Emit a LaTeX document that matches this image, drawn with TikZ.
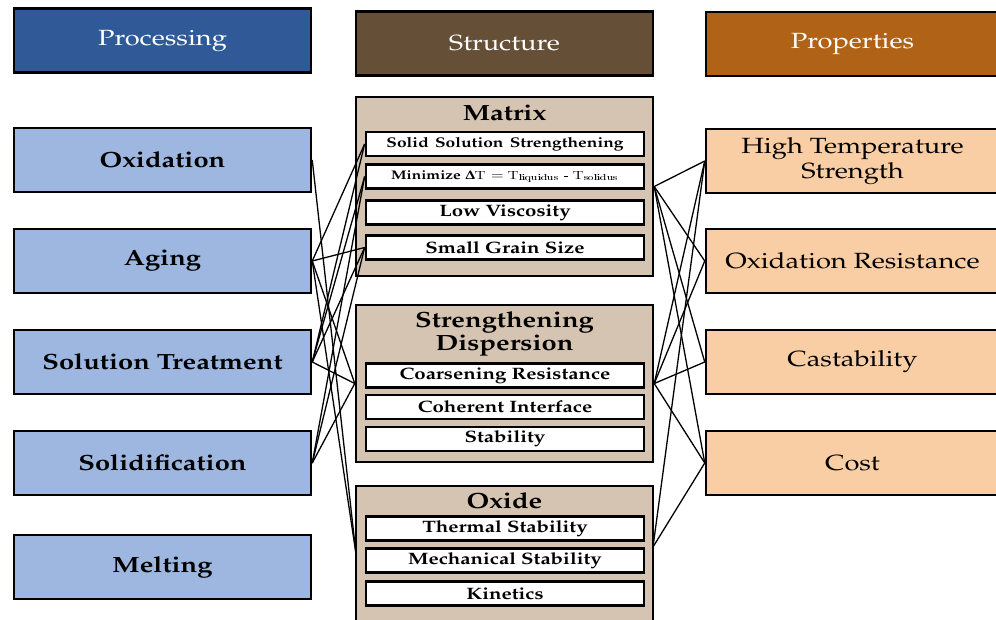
\documentclass[tikz,border=0pt]{standalone}
\usepackage[T1]{fontenc}
\usepackage{mathpazo}
\usepackage{graphicx}
\definecolor{procblue}{RGB}{47,90,151}
\definecolor{strbrown}{RGB}{101,79,55}
\definecolor{proporange}{RGB}{176,99,22}
\definecolor{lightblue}{RGB}{157,183,224}
\definecolor{tan}{RGB}{214,196,178}
\definecolor{peach}{RGB}{250,206,164}
\newcommand{\hs}[1]{\scalebox{1.24}[1]{#1}}
\begin{document}
\begin{tikzpicture}[x=1pt,y=-1pt,
  hdr/.style={draw=black, line width=2.5pt, minimum width=297pt, minimum height=64pt, text=white, font=\fontsize{22}{26}\selectfont, inner sep=0pt},
  procbox/.style={draw=black, line width=2.5pt, fill=lightblue, minimum width=297pt, minimum height=64pt, font=\fontsize{22}{26}\selectfont\bfseries, inner sep=0pt},
  propbox/.style={draw=black, line width=2.5pt, fill=peach, minimum width=293pt, minimum height=64pt, font=\fontsize{22}{26}\selectfont, align=center, inner sep=0pt},
  cont/.style={draw=black, line width=2.5pt, fill=tan, minimum width=297pt, inner sep=0pt},
  ttl/.style={font=\fontsize{22}{26}\selectfont\bfseries, align=center, inner sep=0pt},
  sub/.style={draw=black, line width=2.7pt, fill=white, minimum width=278pt, minimum height=24pt, font=\fontsize{16.5}{18}\selectfont\bfseries, inner sep=0pt},
  conn/.style={draw=black, line width=1.3pt}]
\useasboundingbox (0,0) rectangle (996,619);
% headers
\node[hdr, fill=procblue] (hp) at (162.5,40.5) {\hs{Processing}};
\node[hdr, fill=strbrown] (hs) at (504.5,43.5) {\hs{Structure}};
\node[hdr, fill=proporange, minimum width=293pt] (hq) at (852.5,44) {\hs{Properties}};
% processing
\node[procbox] (oxi) at (162.5,160) {\hs{Oxidation}};
\node[procbox] (age) at (162.5,261) {\hs{Aging}};
\node[procbox] (sol) at (162.5,362) {\hs{Solution Treatment}};
\node[procbox] (sfy) at (162.5,463) {\hs{Solidification}};
\node[procbox] (mel) at (162.5,567) {\hs{Melting}};
% properties
\node[propbox] (hts) at (852.5,161) {\hs{High Temperature}\\[-1pt]\hs{Strength}};
\node[propbox] (oxr) at (852.5,261) {\hs{Oxidation Resistance}};
\node[propbox] (cas) at (852.5,362) {\hs{Castability}};
\node[propbox] (cst) at (852.5,463) {\hs{Cost}};
% matrix
\node[cont, minimum height=179pt] (mat) at (504.5,186.5) {};
\node[ttl] (matt) at (504.5,113) {\hs{Matrix}};
\node[sub, font=\fontsize{14}{16}\selectfont\bfseries] (sss) at (505,144) {\hs{Solid\hspace{1.5pt} Solution\hspace{1.5pt} Strengthening}};
\node[sub, font=\fontsize{12.5}{15}\selectfont\bfseries] (mdt) at (505,176.5) {\hs{Minimize {\sffamily\bfseries $\mathbf{\Delta}$T $=$ T\textsubscript{liquidus} - T\textsubscript{solidus}}}};
\node[sub] (lvs) at (505,212.5) {\hs{Low Viscosity}};
\node[sub] (sgs) at (505,247.5) {\hs{Small Grain Size}};
% strengthening dispersion
\node[cont, minimum height=157pt] (sdp) at (504.5,383.5) {};
\node[ttl] (sdpt) at (504.5,334) {\hs{Strengthening}\\[-3pt]\hs{Dispersion}};
\node[sub] (crs) at (505,375.5) {\hs{Coarsening Resistance}};
\node[sub] (coh) at (505,407) {\hs{Coherent Interface}};
\node[sub] (stb) at (505,439) {\hs{Stability}};
% oxide
\node[cont, minimum height=139pt] (oxd) at (504.5,555.5) {};
\node[ttl] (oxdt) at (504.5,501) {\hs{Oxide}};
\node[sub] (tst) at (505,528.5) {\hs{Thermal Stability}};
\node[sub] (mst) at (505,560.5) {\hs{Mechanical Stability}};
\node[sub] (kin) at (505,593.5) {\hs{Kinetics}};
\coordinate (oxL) at (356,554);
\coordinate (oxR) at (653,547);
% left connectors
\draw[conn] (oxi.east) -- (oxL);
\draw[conn] (age.east) -- (sss.west);
\draw[conn] (age.east) -- (sgs.west);
\draw[conn] (age.east) -- (sdp.west);
\draw[conn] (age.east) -- (oxL);
\draw[conn] (sol.east) -- (sss.west);
\draw[conn] (sol.east) -- (mdt.west);
\draw[conn] (sol.east) -- (sgs.west);
\draw[conn] (sol.east) -- (sdp.west);
\draw[conn] (sfy.east) -- (mdt.west);
\draw[conn] (sfy.east) -- (sgs.west);
\draw[conn] (sfy.east) -- (sdp.west);
% right connectors
\draw[conn] (mat.east) -- (hts.west);
\draw[conn] (mat.east) -- (oxr.west);
\draw[conn] (mat.east) -- (cas.west);
\draw[conn] (mat.east) -- (cst.west);
\draw[conn] (sdp.east) -- (hts.west);
\draw[conn] (sdp.east) -- (oxr.west);
\draw[conn] (sdp.east) -- (cas.west);
\draw[conn] (sdp.east) -- (cst.west);
\draw[conn] (oxR) -- (hts.west);
\draw[conn] (oxR) -- (cst.west);
\end{tikzpicture}
\end{document}
